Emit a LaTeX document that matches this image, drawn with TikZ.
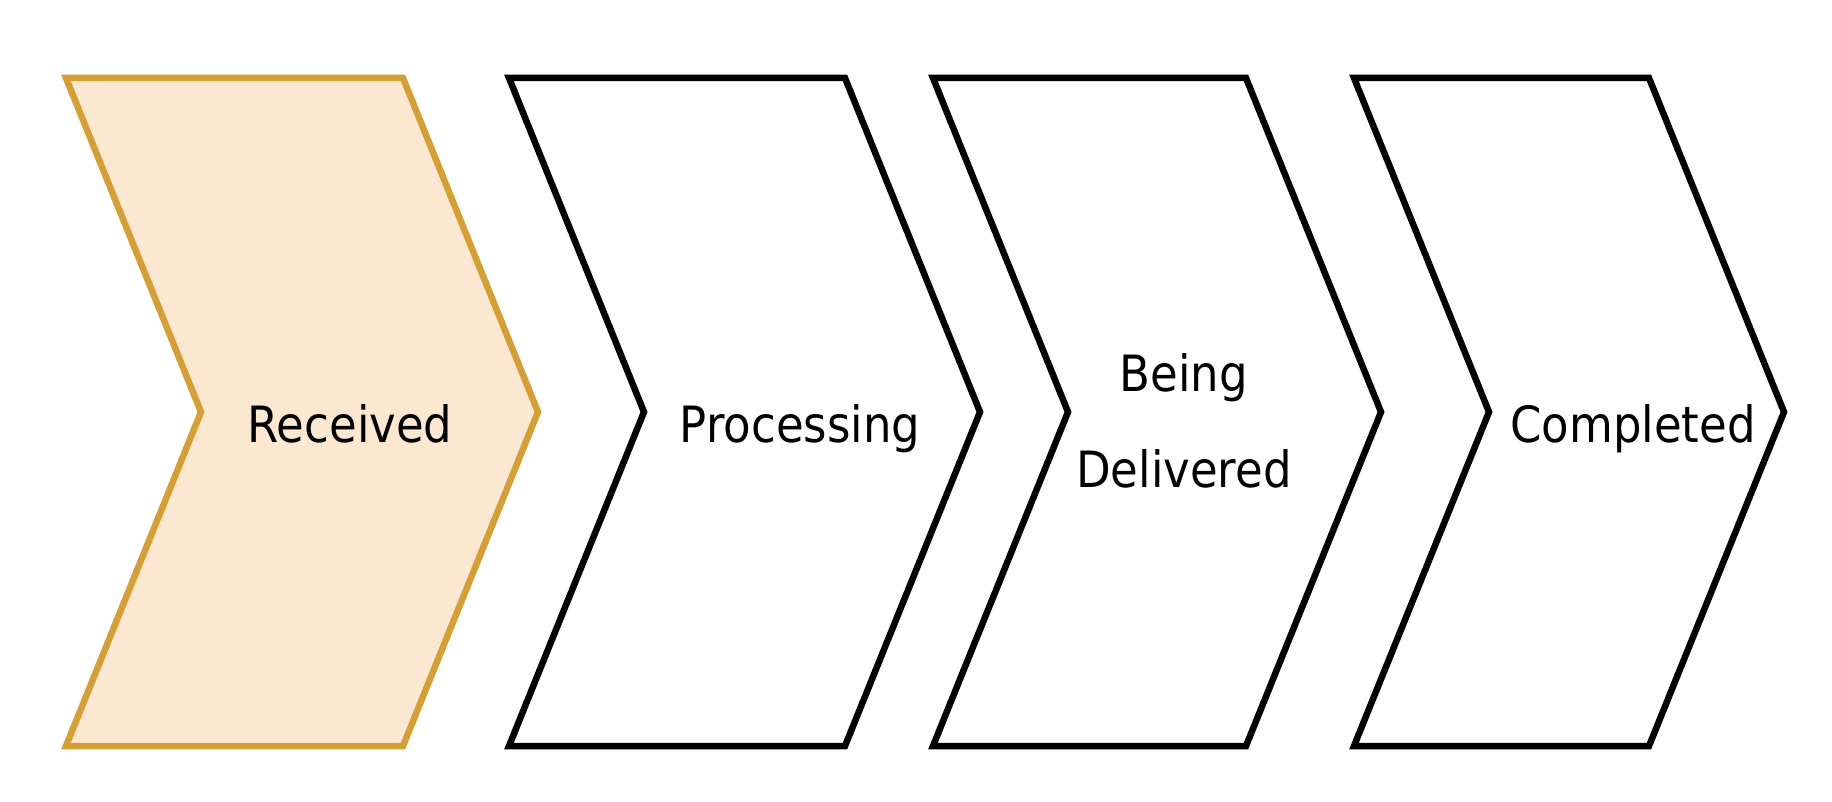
\documentclass[tikz,border=0pt]{standalone}
\usepackage{fontspec}
\setmainfont{DejaVu Sans}[FakeStretch=0.9]
\definecolor{recfill}{HTML}{FCE7D1}
\definecolor{recline}{HTML}{D59F38}
\tikzset{
  stepline/.style={line width=3.25pt},
  steptext/.style={font=\fontsize{25}{48}\selectfont, inner sep=0pt, align=center}
}
\begin{document}
\begin{tikzpicture}[x=0.5pt, y=-0.5pt]
\useasboundingbox (0,0) rectangle (1832,802);

\draw[stepline, draw=recline, fill=recfill] (66,78) -- ++(337,0) -- ++(135,334)
  -- ++(-135,334) -- ++(-337,0) -- ++(135,-334) -- cycle;
\foreach \l/\w in {509/336, 933/313, 1354/295} {
  \draw[stepline] (\l,78) -- ++(\w,0) -- ++(135,334)
    -- ++(-135,334) -- ++(-\w,0) -- ++(135,-334) -- cycle;
}

\node[steptext, anchor=base] (received) at (350,443){Received};
\node[steptext, anchor=base] (processing) at (800,442){Processing};
\node[steptext] (delivered) at (1184,421){Being\\Delivered};
\node[steptext, anchor=base] (completed) at (1633,442){Completed};
\end{tikzpicture}
\end{document}
